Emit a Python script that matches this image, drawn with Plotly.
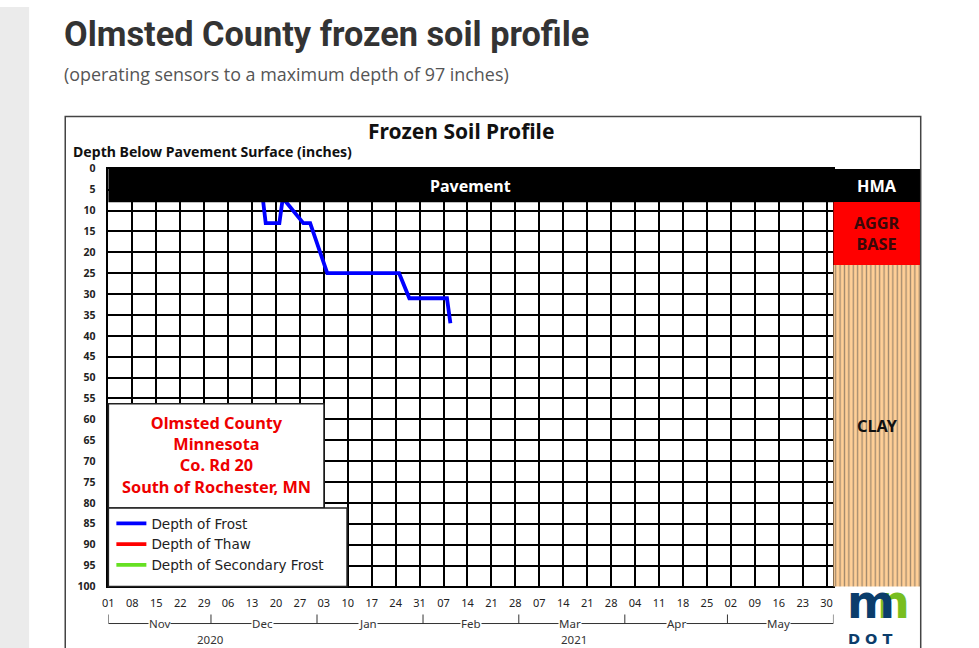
import plotly.graph_objects as go
from datetime import date

# Observed rendering: the figure sits at an 8px body margin and the capture is
# scaled slightly (about 0.991 horizontally, 0.975 vertically). Reference pixel
# positions are converted to figure coordinates accordingly.
OFF = 8
SX, SY = 0.991, 0.975
W, H = 979, 657

# ---------------- data ----------------
frost_dates = ["2020-12-16", "2020-12-17", "2020-12-21", "2020-12-22", "2020-12-28",
               "2020-12-30", "2021-01-04", "2021-01-25", "2021-01-28", "2021-02-08", "2021-02-09"]
frost_depth = [6, 13, 13, 7, 13, 13, 25, 25, 31, 31, 37]
thaw_dates, thaw_depth = [], []
secondary_dates, secondary_depth = [], []

layer_names = ["HMA", "AGGR<br>BASE", "CLAY"]
layer_top = [0, 8, 23]
layer_bottom = [8, 23, 100]

pavement_bottom = 8

month_starts = [date(2020, 11, 1), date(2020, 12, 1), date(2021, 1, 1), date(2021, 2, 1),
                date(2021, 3, 1), date(2021, 4, 1), date(2021, 5, 1), date(2021, 6, 1)]
month_labels = ["Nov", "Dec", "Jan", "Feb", "Mar", "Apr", "May"]
year_labels = ["2020", "2021"]
year_spans = [(date(2020, 11, 1), date(2021, 1, 1)), (date(2021, 1, 1), date(2021, 6, 1))]

site_lines = ["Olmsted County", "Minnesota", "Co. Rd 20", "South of Rochester, MN"]


# ---------------- helpers (reference pixel -> paper) ----------------
def px(x):
    return (x / SX - OFF) / W


def py(y):
    return 1 - (y / SY - OFF) / H


def mid(a, b):
    return a + (b - a) / 2


FONT = "Noto Sans, DejaVu Sans, sans-serif"
layer_colors = ["#000000", "#ff0000", "#ffcf97"]
layer_text_colors = ["#ffffff", "#3a0808", "#111111"]


def ann(x, y, text, size, color, family=FONT, xanchor="center", yanchor="middle", **kw):
    d = dict(xref="paper", yref="paper", x=x, y=y, text=text, showarrow=False,
             xanchor=xanchor, yanchor=yanchor, font=dict(family=family, size=size, color=color))
    d.update(kw)
    return d


fig = go.Figure()

# frost / thaw / secondary frost lines
fig.add_trace(go.Scatter(x=frost_dates, y=frost_depth, mode="lines", name="Depth of Frost",
                         line=dict(color="#0000ff", width=3.8), xaxis="x", yaxis="y"))
fig.add_trace(go.Scatter(x=thaw_dates or [None], y=thaw_depth or [None], mode="lines",
                         name="Depth of Thaw",
                         line=dict(color="#ff0000", width=3.8), xaxis="x", yaxis="y"))
fig.add_trace(go.Scatter(x=secondary_dates or [None], y=secondary_depth or [None], mode="lines",
                         name="Depth of Secondary Frost",
                         line=dict(color="#66e022", width=3.8), xaxis="x", yaxis="y"))

# soil layer column
fig.add_trace(go.Bar(
    x=[0.5] * len(layer_names),
    y=[b - t for t, b in zip(layer_top, layer_bottom)],
    base=layer_top,
    width=1,
    marker=dict(color=layer_colors, line=dict(width=0),
                pattern=dict(shape=["", "", "|"], fgcolor="#f8b063", size=4.4,
                             solidity=0.3, fillmode="overlay")),
    showlegend=False, hoverinfo="skip", xaxis="x2", yaxis="y2"))

shapes = []
annotations = []

# page decoration
shapes.append(dict(type="rect", xref="paper", yref="paper", x0=px(0), x1=px(31), y0=0, y1=1,
                   fillcolor="#ebebeb", line=dict(width=0), layer="below"))
shapes.append(dict(type="rect", xref="paper", yref="paper", x0=px(67), x1=px(920),
                   y0=py(680), y1=py(117), fillcolor="rgba(0,0,0,0)",
                   line=dict(color="#444444", width=1.5), layer="above"))

# pavement band
shapes.append(dict(type="rect", xref="x domain", yref="y", x0=0, x1=1, y0=0, y1=pavement_bottom,
                   fillcolor="#000000", line=dict(width=0), layer="above"))
annotations.append(dict(xref="x domain", yref="y", x=0.5, y=pavement_bottom / 2, text="<b>Pavement</b>",
                        showarrow=False, xanchor="center", yanchor="middle",
                        font=dict(family=FONT, size=16, color="white")))

# layer labels
for name, t, b, c in zip(layer_names, layer_top, layer_bottom, layer_text_colors):
    annotations.append(dict(xref="x2", yref="y2", x=0.5, y=(t + b) / 2, text="<b>" + name + "</b>",
                            showarrow=False, xanchor="center", yanchor="middle",
                            font=dict(family=FONT, size=16.3, color=c)))

# site text box
shapes.append(dict(type="rect", xref="paper", yref="paper", x0=px(110), x1=px(325),
                   y0=py(507), y1=py(403), fillcolor="white",
                   line=dict(color="#222222", width=1.5), layer="above"))
annotations.append(ann(px(217.5), py(454.5), "<b>" + "<br>".join(site_lines) + "</b>", 16.3,
                       "#ee0000"))
# legend box
shapes.append(dict(type="rect", xref="paper", yref="paper", x0=px(110), x1=px(348),
                   y0=py(585), y1=py(507), fillcolor="white",
                   line=dict(color="#222222", width=1.5), layer="above"))

# month bracket
bracket_y = py(622)
shapes.append(dict(type="line", xref="x", yref="paper", x0=month_starts[0], x1=month_starts[-1],
                   y0=bracket_y, y1=bracket_y, line=dict(color="#333333", width=1)))
for d in month_starts:
    shapes.append(dict(type="line", xref="x", yref="paper", x0=d, x1=d, y0=bracket_y, y1=py(613),
                       line=dict(color="#333333", width=1)))
for i, lab in enumerate(month_labels):
    annotations.append(dict(xref="x", yref="paper", x=mid(month_starts[i], month_starts[i + 1]),
                            y=bracket_y, text=lab, showarrow=False, bgcolor="white", borderpad=0,
                            xanchor="center", yanchor="middle",
                            font=dict(family=FONT, size=11.5, color="#333333")))
for lab, (a, b) in zip(year_labels, year_spans):
    annotations.append(dict(xref="x", yref="paper", x=mid(a, b), y=py(638), text=lab,
                            showarrow=False, xanchor="center", yanchor="middle",
                            font=dict(family=FONT, size=11.5, color="#333333")))

# titles
annotations.append(ann(px(64), py(35), "<b>Olmsted County frozen soil profile</b>", 34.3, "#333333",
                       family="Roboto, Open Sans, sans-serif", xanchor="left"))
annotations.append(ann(px(64), py(75), "(operating sensors to a maximum depth of 97 inches)", 17.9,
                       "#555555", family="Open Sans, sans-serif", xanchor="left"))
annotations.append(ann(px(462), py(131), "<b>Frozen Soil Profile</b>", 21, "#111111"))
annotations.append(ann(px(73), py(152), "<b>Depth Below Pavement Surface (inches)</b>", 14.1,
                       "#111111", xanchor="left"))

# MnDOT logo (text)
annotations.append(ann(px(893), py(601), "<b>n</b>", 46, "#78be20", family="DejaVu Sans"))
annotations.append(ann(px(870), py(601), "<b>m</b>", 46, "#0b3d6b", family="DejaVu Sans"))
annotations.append(ann(px(869), py(637), "<b>D O T</b>", 14.5, "#0b3d6b", family="DejaVu Sans"))

fig.update_layout(
    width=W, height=H,
    margin=dict(l=0, r=0, t=0, b=0),
    paper_bgcolor="white", plot_bgcolor="white",
    showlegend=True,
    legend=dict(x=px(113), y=py(507), xanchor="left", yanchor="top",
                bgcolor="rgba(0,0,0,0)", borderwidth=0, tracegroupgap=0,
                font=dict(family="DejaVu Sans, sans-serif", size=13.6, color="#222222")),
    xaxis=dict(type="date", domain=[px(110), px(833)],
               range=[month_starts[0], month_starts[-1]],
               tick0=month_starts[0], dtick=7 * 86400000, tickformat="%d",
               showgrid=True, gridcolor="#000000", gridwidth=1.5,
               showline=True, linecolor="#000000", linewidth=1.5, mirror=True,
               ticks="", ticklabelstandoff=6,
               tickfont=dict(family=FONT, size=11, color="#222222"),
               anchor="y", zeroline=False),
    yaxis=dict(domain=[py(585), py(169)], range=[100, 0], tick0=0, dtick=5,
               showgrid=True, gridcolor="#000000", gridwidth=1.5,
               showline=True, linecolor="#000000", linewidth=1.5, mirror=True,
               ticks="", ticklabelstandoff=9, zeroline=False,
               tickfont=dict(family=FONT, size=10.5, color="#222222", weight="bold"),
               anchor="x"),
    xaxis2=dict(domain=[px(833), px(920)], range=[0, 1], visible=False, anchor="y2"),
    yaxis2=dict(domain=[py(585), py(169)], range=[100, 0], visible=False, anchor="x2"),
    shapes=shapes,
    annotations=annotations,
    bargap=0,
)

fig.write_html("out.html")
